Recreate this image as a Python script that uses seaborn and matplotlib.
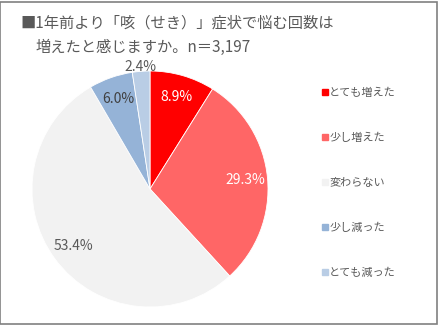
import matplotlib
matplotlib.use("Agg")
import matplotlib.pyplot as plt
import seaborn as sns
from matplotlib.lines import Line2D
from matplotlib.patches import Rectangle
import numpy as np

categories = ["とても増えた", "少し増えた", "変わらない", "少し減った", "とても減った"]
values = [8.9, 29.3, 53.4, 6.0, 2.4]
colors = ["#FF0000", "#FF6666", "#F2F2F2", "#95B3D7", "#B9CDE5"]
label_colors = ["white", "white", "#595959", "#404040", "#595959"]
title_line1 = "■1年前より「咳（せき）」症状で悩む回数は"
title_line2 = "増えたと感じますか。n＝3,197"

sns.set_theme(style="white")
plt.rcParams['font.family'] = ['Noto Sans CJK JP', 'DejaVu Sans']

fig = plt.figure(figsize=(4.39, 3.25), dpi=100)
fig.patch.set_facecolor("white")

cx, cy, r = 150 / 439, (325 - 189) / 325, 118
ax = fig.add_axes([cx - r / 439, cy - r / 325, 2 * r / 439, 2 * r / 325])
wedges, texts, autotexts = ax.pie(
    values, colors=colors, startangle=90, counterclock=False,
    autopct="%.1f%%", pctdistance=0.81,
    wedgeprops=dict(edgecolor="white", linewidth=0.6),
    textprops=dict(fontsize=10),
)
for t, c in zip(autotexts, label_colors):
    t.set_color(c)
# last small slice label placed just outside
w = wedges[-1]
ang = np.deg2rad((w.theta1 + w.theta2) / 2)
autotexts[-1].set_position((1.04 * np.cos(ang) - 0.0, 1.04 * np.sin(ang)))
ax.set_xlim(-1, 1)
ax.set_ylim(-1, 1)
ax.set_aspect("auto")
ax.axis("off")

fig.text(20 / 439, 1 - 23 / 325, title_line1, fontsize=11, color="#595959",
         va="center", ha="left")
fig.text(36 / 439, 1 - 47 / 325, title_line2, fontsize=11, color="#595959",
         va="center", ha="left")

handles = [Line2D([0], [0], marker="s", linestyle="none", markersize=4.5,
                  markerfacecolor=c, markeredgecolor=c) for c in colors]
leg = fig.legend(handles, categories, loc="upper left",
                 bbox_to_anchor=(317 / 439, 1 - 83 / 325), frameon=False,
                 fontsize=8, labelspacing=3.15, handlelength=0.6,
                 handletextpad=0.1, borderaxespad=0)
for t in leg.get_texts():
    t.set_color("#595959")

fig.add_artist(Rectangle((0.5 / 439, 1.5 / 325), 436.5 / 439, 322 / 325,
                         transform=fig.transFigure, fill=False,
                         edgecolor="#808080", linewidth=1.2))

fig.savefig("out.png", dpi=100, facecolor="white")
